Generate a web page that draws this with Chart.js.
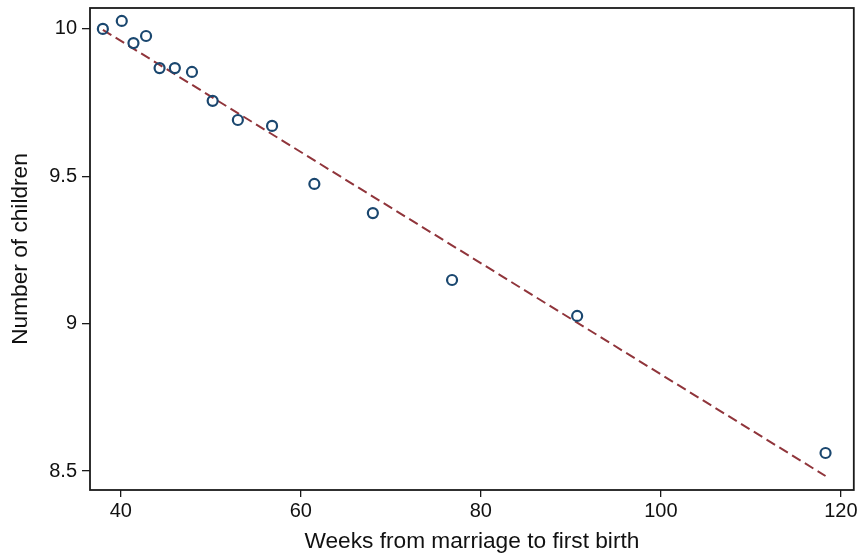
<!DOCTYPE html>
<html>
<head>
<meta charset="utf-8">
<script src="https://cdn.jsdelivr.net/npm/chart.js@4/dist/chart.umd.min.js"></script>
<style>
  html, body { margin: 0; padding: 0; background: #ffffff; }
  #wrap { width: 861px; height: 555px; }
</style>
</head>
<body>
<div id="wrap"><canvas id="c" width="861" height="555"></canvas></div>
<script>
// Data
const weeks    = [38.0, 40.1, 41.4, 42.8, 44.3, 46.0, 47.9, 50.2, 53.0, 56.8, 61.5, 68.0, 76.8, 90.7, 118.3];
const children = [10.0, 10.027, 9.952, 9.976, 9.867, 9.867, 9.854, 9.756, 9.691, 9.671, 9.474, 9.375, 9.148, 9.026, 8.561];
const fitX = [38.0, 118.3];
const fitY = [9.997, 8.483];
const xTicks = [40, 60, 80, 100, 120];
const yTicks = [8.5, 9, 9.5, 10];
const xTitle = 'Weeks from marriage to first birth';
const yTitle = 'Number of children';

const FONT = '"Liberation Sans", Arial, Helvetica, sans-serif';

const scatterPts = weeks.map((w, i) => ({ x: w, y: children[i] }));
const fitPts = fitX.map((x, i) => ({ x: x, y: fitY[i] }));

const frame = {
  id: 'frame',
  afterDatasetsDraw(chart) {
    const a = chart.chartArea, ctx = chart.ctx;
    ctx.save();
    ctx.strokeStyle = '#1a1a1a';
    ctx.lineWidth = 1.8;
    ctx.strokeRect(a.left, a.top, a.right - a.left, a.bottom - a.top);
    ctx.restore();
  }
};

new Chart(document.getElementById('c'), {
  type: 'scatter',
  data: {
    datasets: [
      {
        label: 'Fitted',
        data: fitPts,
        showLine: true,
        borderColor: '#90353b',
        borderWidth: 2,
        borderDash: [10, 5],
        pointRadius: 0,
        fill: false,
        order: 2
      },
      {
        label: 'Observed',
        data: scatterPts,
        showLine: false,
        pointRadius: 5,
        pointBorderWidth: 2.2,
        pointBorderColor: '#1a476f',
        pointBackgroundColor: 'rgba(255,255,255,0)',
        order: 1
      }
    ]
  },
  options: {
    responsive: false,
    animation: false,
    devicePixelRatio: 1,
    layout: { padding: { left: 0, top: 8, right: 5, bottom: 0 } },
    plugins: { legend: { display: false }, tooltip: { enabled: false } },
    scales: {
      x: {
        type: 'linear',
        min: 36.57,
        max: 121.44,
        afterBuildTicks(s) { s.ticks = xTicks.map(v => ({ value: v })); },
        afterFit(s) { s.height = 65; s.paddingLeft = 0; s.paddingRight = 0; },
        grid: { drawOnChartArea: false, drawTicks: true, tickLength: 7, color: '#1a1a1a', lineWidth: 1.3 },
        border: { display: false },
        ticks: { color: '#111', font: { family: FONT, size: 20 }, padding: 2, maxRotation: 0, autoSkip: false,
                 callback: v => String(v) },
        title: { display: true, text: xTitle, color: '#111', font: { family: FONT, size: 22.7 }, padding: { top: 0, bottom: 0 } }
      },
      y: {
        type: 'linear',
        min: 8.4355,
        max: 10.071,
        afterBuildTicks(s) { s.ticks = yTicks.map(v => ({ value: v })); },
        afterFit(s) { s.width = 90; s.paddingTop = 0; s.paddingBottom = 0; },
        grid: { drawOnChartArea: false, drawTicks: true, tickLength: 8, color: '#1a1a1a', lineWidth: 1.3 },
        border: { display: false },
        ticks: { color: '#111', font: { family: FONT, size: 20 }, padding: 5, autoSkip: false,
                 callback: v => String(v) },
        title: { display: true, text: yTitle, color: '#111', font: { family: FONT, size: 22.7 }, padding: { top: 7, bottom: 0 } }
      }
    }
  },
  plugins: [frame]
});
</script>
</body>
</html>
